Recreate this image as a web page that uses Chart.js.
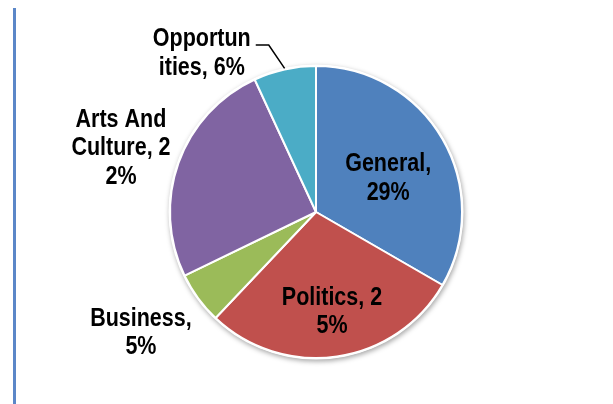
<!DOCTYPE html>
<html>
<head>
<meta charset="utf-8">
<script src="https://cdn.jsdelivr.net/npm/chart.js@4.4.1/dist/chart.umd.min.js"></script>
<style>
    html, body { margin: 0; padding: 0; background: #fff; }
    #wrap { position: relative; width: 613px; height: 404px; }
    #frame { position: absolute; left: 13px; top: 8px; width: 3px; height: 396px; background: #5b87c8; }
    canvas { position: absolute; left: 0; top: 0; }
</style>
</head>
<body>
<div id="wrap">
    <div id="frame"></div>
    <canvas id="pieChart" width="613" height="404"></canvas>
</div>
<script>
const categories = ['General', 'Politics', 'Business', 'Arts And Culture', 'Opportunities'];
const shares = [29, 25, 5, 22, 6];
const sliceColors = ['#4f81bd', '#c0504d', '#9bbb59', '#8064a2', '#4bacc6'];

// where each label wraps (character index in "Name, NN%")
const wrapAt = [[8], [11], [9], [8, 19], [8]];
// label placement: distance from centre as a fraction of radius, angle shift in degrees
const labelRadius = [0.55, 0.68, 1.45, 1.41, 1.35];
const labelAngleShift = [4, -1, 2, -1, -23];

const LABEL_FONT = 'bold 25px "Liberation Sans", Arial, sans-serif';
const LABEL_SQUEEZE = 0.86;   // narrow the bold face horizontally
const LINE_HEIGHT = 28.5;
const TEXT_DROP = 2;

function labelLines(i) {
    const text = `${categories[i]}, ${shares[i]}%`;
    const lines = [];
    let start = 0;
    wrapAt[i].forEach(pos => {
        lines.push(text.slice(start, pos).trim());
        start = pos;
    });
    lines.push(text.slice(start).trim());
    return lines;
}

// soft shadow under the whole pie
const pieShadow = {
    id: 'pieShadow',
    beforeDatasetsDraw(chart) {
        const arc = chart.getDatasetMeta(0).data[0];
        if (!arc) return;
        const ctx = chart.ctx;
        ctx.save();
        ctx.shadowColor = 'rgba(0,0,0,0.35)';
        ctx.shadowBlur = 5;
        ctx.shadowOffsetX = 1;
        ctx.shadowOffsetY = 2;
        ctx.fillStyle = '#fff';
        ctx.beginPath();
        ctx.arc(arc.x, arc.y, arc.outerRadius + 1.5, 0, Math.PI * 2);
        ctx.fill();
        ctx.restore();
    }
};

const sliceLabels = {
    id: 'sliceLabels',
    afterDatasetsDraw(chart) {
        const ctx = chart.ctx;
        const arcs = chart.getDatasetMeta(0).data;
        ctx.save();
        ctx.font = LABEL_FONT;
        ctx.fillStyle = '#000';
        ctx.textAlign = 'center';
        ctx.textBaseline = 'middle';
        arcs.forEach((arc, i) => {
            const mid = (arc.startAngle + arc.endAngle) / 2;
            const ang = mid + labelAngleShift[i] * Math.PI / 180;
            const r = arc.outerRadius * labelRadius[i];
            const cx = arc.x + Math.cos(ang) * r;
            const cy = arc.y + Math.sin(ang) * r + TEXT_DROP;
            const lines = labelLines(i);
            const top = cy - (lines.length - 1) * LINE_HEIGHT / 2;
            lines.forEach((line, k) => {
                ctx.save();
                ctx.translate(cx, top + k * LINE_HEIGHT);
                ctx.scale(LABEL_SQUEEZE, 1);
                ctx.fillText(line, 0, 0);
                ctx.restore();
            });

            // leader line for the label that sits away from its slice
            if (labelRadius[i] > 1 && Math.abs(labelAngleShift[i]) > 10) {
                const ex = arc.x + Math.cos(mid) * arc.outerRadius;
                const ey = arc.y + Math.sin(mid) * arc.outerRadius;
                const width = Math.max(...lines.map(l => ctx.measureText(l).width)) * LABEL_SQUEEZE;
                const lx = cx + width / 2 + 5;
                const ly = top + 6;
                ctx.strokeStyle = '#000';
                ctx.lineWidth = 1.5;
                ctx.beginPath();
                ctx.moveTo(ex, ey - 1);
                ctx.lineTo(lx + 13, ly);
                ctx.lineTo(lx, ly);
                ctx.stroke();
            }
        });
        ctx.restore();
    }
};

new Chart(document.getElementById('pieChart'), {
    type: 'pie',
    data: {
        labels: categories,
        datasets: [{
            data: shares,
            backgroundColor: sliceColors,
            borderColor: '#fff',
            borderWidth: 2
        }]
    },
    options: {
        responsive: false,
        animation: false,
        layout: { padding: { top: 64, bottom: 44, left: 169, right: 150 } },
        plugins: {
            legend: { display: false },
            tooltip: { enabled: false }
        }
    },
    plugins: [pieShadow, sliceLabels]
});
</script>
</body>
</html>
